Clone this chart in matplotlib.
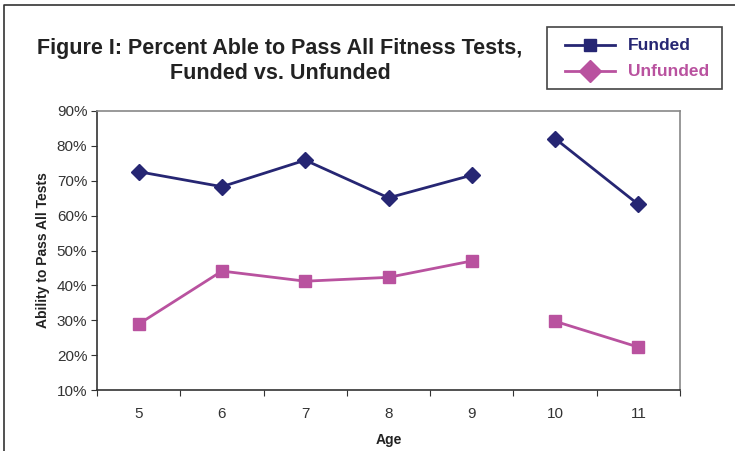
import numpy as np
import matplotlib.pyplot as plt
from matplotlib.patches import Rectangle
from matplotlib.lines import Line2D

plt.rcParams['font.family'] = ['Liberation Sans', 'DejaVu Sans']

# ages, split where the survey has a break between 9 and 10
ages_a = [5, 6, 7, 8, 9]
ages_b = [10, 11]
funded_a = [72.6, 68.3, 75.9, 65.1, 71.6]
funded_b = [82.1, 63.2]
unfunded_a = [28.9, 44.1, 41.2, 42.3, 47.0]
unfunded_b = [29.7, 22.3]

yticks = [10, 20, 30, 40, 50, 60, 70, 80, 90]
xticks = [5, 6, 7, 8, 9, 10, 11]

navy = '#262673'
pink = '#B9529F'

fig = plt.figure(figsize=(7.35, 4.51), dpi=100)
ax = fig.add_axes([97 / 735, 1 - 390 / 451, 583 / 735, 279 / 451])

for xs, ys in [(ages_a, funded_a), (ages_b, funded_b)]:
    ax.plot(xs, ys, color=navy, lw=2, marker='D', ms=8, mec=navy, mfc=navy)
for xs, ys in [(ages_a, unfunded_a), (ages_b, unfunded_b)]:
    ax.plot(xs, ys, color=pink, lw=2, marker='s', ms=9, mec=pink, mfc=pink)

ax.set_xlim(4.5, 11.5)
ax.set_ylim(10, 90)
ax.set_yticks(yticks)
ax.set_yticklabels([f'{v}%' for v in yticks])
ax.set_xticks(xticks)
ax.set_xticks(np.arange(4.5, 11.6, 1), minor=True)
ax.tick_params(axis='x', which='major', length=0, pad=12)
ax.tick_params(axis='x', which='minor', length=4, width=0.8, color='#333333')
ax.tick_params(axis='y', length=4, width=0.8, color='#333333', pad=3)
ax.tick_params(labelsize=11, labelcolor='#333333')

for side in ['left', 'bottom']:
    ax.spines[side].set_color('#333333')
    ax.spines[side].set_linewidth(1.2)
for side in ['top', 'right']:
    ax.spines[side].set_color('#888888')
    ax.spines[side].set_linewidth(1.2)

ax.set_xlabel('Age', fontsize=10, fontweight='bold', labelpad=9, color='#222222')
ax.set_ylabel('Ability to Pass All Tests', fontsize=10, fontweight='bold', labelpad=5,
              color='#222222')

fig.text(280 / 735, 1 - 61 / 451, 'Figure I: Percent Able to Pass All Fitness Tests,\nFunded vs. Unfunded',
         ha='center', va='center', fontsize=15.5, fontweight='bold', color='#222222',
         linespacing=1.2)

# legend drawn as a plain box with two entries
fig.patches.append(Rectangle((547 / 735, 1 - 89 / 451), 175 / 735, 62 / 451,
                             transform=fig.transFigure, fill=False, ec='#444444', lw=1.2))
entries = [('Funded', navy, 's', 45), ('Unfunded', pink, 'D', 71)]
for label, col, mk, yp in entries:
    y = 1 - yp / 451
    fig.lines.append(Line2D([565 / 735, 615 / 735], [y, y], transform=fig.transFigure,
                            color=col, lw=2))
    fig.lines.append(Line2D([590 / 735], [y], transform=fig.transFigure, color=col,
                            marker=mk, ms=9 if mk == 's' else 11, mec=col, mfc=col))
    fig.text(628 / 735, y, label, ha='left', va='center', fontsize=12.5,
             fontweight='bold', color=col)

# outer frame
fig.lines.append(Line2D([4 / 735, 4 / 735, 735 / 735], [0, 1 - 5 / 451, 1 - 5 / 451],
                        transform=fig.transFigure, color='#333333', lw=1.2))

fig.savefig('out.png', dpi=100)
